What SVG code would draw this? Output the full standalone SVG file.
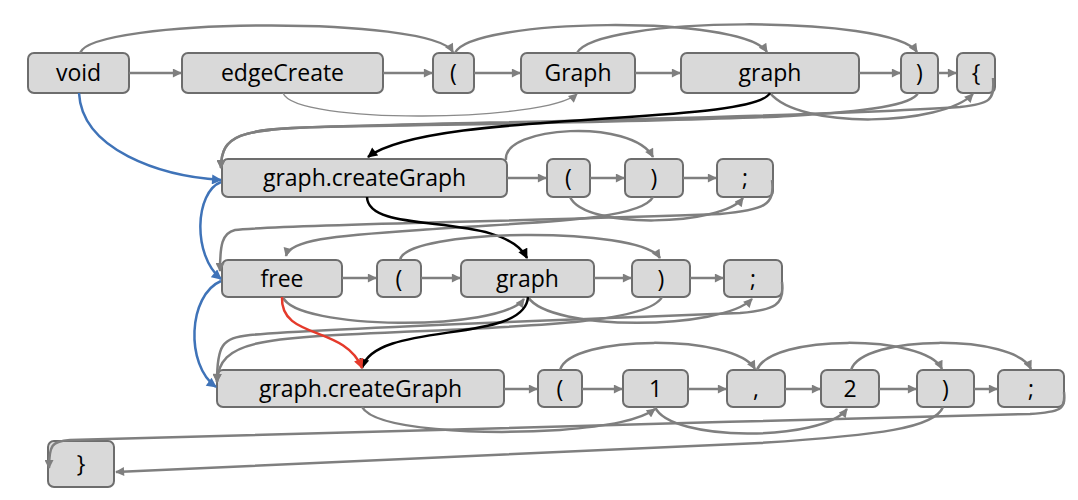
<svg xmlns="http://www.w3.org/2000/svg" width="1078" height="500" viewBox="0 0 1078 500">
<style>
.n rect{fill:#d9d9d9;stroke:#6d6d6d;stroke-width:2}
.n text{font-family:"Open Sans","Liberation Sans",sans-serif;font-size:23px;fill:#000;text-anchor:middle}
.g{fill:none;stroke:#7f7f7f;stroke-width:2.5;marker-end:url(#ag)}
.t{fill:none;stroke:#8a8a8a;stroke-width:1.3;marker-end:url(#ag)}
.k{fill:none;stroke:#000;stroke-width:2.5;marker-end:url(#ak)}
.b{fill:none;stroke:#3f73b8;stroke-width:2.5;marker-end:url(#ab)}
.r{fill:none;stroke:#e53a2b;stroke-width:2.5;marker-end:url(#ar)}
</style>
<defs>
<marker id="ag" viewBox="0 0 10 10" refX="9" refY="5" markerWidth="10" markerHeight="9" orient="auto" markerUnits="userSpaceOnUse"><path d="M0,0 L10,5 L0,10 z" fill="#7f7f7f"/></marker>
<marker id="ak" viewBox="0 0 10 10" refX="9" refY="5" markerWidth="11" markerHeight="10" orient="auto" markerUnits="userSpaceOnUse"><path d="M0,0 L10,5 L0,10 z" fill="#000"/></marker>
<marker id="ab" viewBox="0 0 10 10" refX="9" refY="5" markerWidth="11" markerHeight="10" orient="auto" markerUnits="userSpaceOnUse"><path d="M0,0 L10,5 L0,10 z" fill="#3f73b8"/></marker>
<marker id="ar" viewBox="0 0 10 10" refX="9" refY="5" markerWidth="11" markerHeight="10" orient="auto" markerUnits="userSpaceOnUse"><path d="M0,0 L10,5 L0,10 z" fill="#e53a2b"/></marker>
</defs>
<rect width="1078" height="500" fill="#fff"/>

<g id="n-void" class="n"><rect x="28" y="53" width="101" height="40" rx="6"/><text x="78.5" y="81">void</text></g>
<g id="n-edgeCreate" class="n"><rect x="182" y="53" width="201" height="40" rx="6"/><text x="282.5" y="81">edgeCreate</text></g>
<g id="n-lp1" class="n"><rect x="433" y="53" width="41" height="40" rx="6"/><text x="453.5" y="81">(</text></g>
<g id="n-Graph" class="n"><rect x="521" y="53" width="114" height="40" rx="6"/><text x="578" y="81">Graph</text></g>
<g id="n-graph1" class="n"><rect x="681" y="53" width="178" height="40" rx="6"/><text x="770" y="81">graph</text></g>
<g id="n-rp1" class="n"><rect x="901" y="53" width="37" height="40" rx="6"/><text x="919.5" y="81">)</text></g>
<g id="n-lbrace" class="n"><rect x="957" y="53" width="38" height="40" rx="6"/><text x="976" y="81">{</text></g>

<g id="n-cg2" class="n"><rect x="222" y="159" width="285" height="38" rx="6"/><text x="364.5" y="186">graph.createGraph</text></g>
<g id="n-lp2" class="n"><rect x="547" y="159" width="43" height="38" rx="6"/><text x="568.5" y="186">(</text></g>
<g id="n-rp2" class="n"><rect x="625" y="159" width="58" height="38" rx="6"/><text x="654" y="186">)</text></g>
<g id="n-sc2" class="n"><rect x="717" y="159" width="56" height="38" rx="6"/><text x="745" y="186">;</text></g>

<g id="n-free" class="n"><rect x="222" y="260" width="120" height="37" rx="6"/><text x="282" y="287">free</text></g>
<g id="n-lp3" class="n"><rect x="377" y="260" width="44" height="37" rx="6"/><text x="399" y="287">(</text></g>
<g id="n-graph3" class="n"><rect x="461" y="260" width="133" height="37" rx="6"/><text x="527.5" y="287">graph</text></g>
<g id="n-rp3" class="n"><rect x="632" y="260" width="58" height="37" rx="6"/><text x="661" y="287">)</text></g>
<g id="n-sc3" class="n"><rect x="724" y="260" width="58" height="37" rx="6"/><text x="753" y="287">;</text></g>

<g id="n-cg4" class="n"><rect x="217" y="370" width="287" height="37" rx="6"/><text x="360.5" y="397">graph.createGraph</text></g>
<g id="n-lp4" class="n"><rect x="538" y="370" width="44" height="37" rx="6"/><text x="560" y="397">(</text></g>
<g id="n-one" class="n"><rect x="623" y="370" width="65" height="37" rx="6"/><text x="655.5" y="397">1</text></g>
<g id="n-comma" class="n"><rect x="727" y="370" width="58" height="37" rx="6"/><text x="756" y="397">,</text></g>
<g id="n-two" class="n"><rect x="821" y="370" width="58" height="37" rx="6"/><text x="850" y="397">2</text></g>
<g id="n-rp4" class="n"><rect x="917" y="370" width="57" height="37" rx="6"/><text x="945.5" y="397">)</text></g>
<g id="n-sc4" class="n"><rect x="998" y="370" width="66" height="37" rx="6"/><text x="1031" y="397">;</text></g>

<g id="n-rbrace" class="n"><rect x="48" y="441" width="66" height="46" rx="6"/><text x="81" y="472">}</text></g>

<g id="connectors">
<!-- row 1 straight -->
<path class="g" d="M129,73 L181,73"/>
<path class="g" d="M383,73 L432,73"/>
<path class="g" d="M474,73 L520,73"/>
<path class="g" d="M635,73 L680,73"/>
<path class="g" d="M859,73 L900,73"/>
<path class="g" d="M938,73 L956,73"/>
<!-- row 1 arcs -->
<path class="g" d="M80,53 C92,18 432,15 453,52"/>
<path class="g" d="M455,53 C470,18 742,14 767,52"/>
<path class="g" d="M577,53 C595,16 892,14 917,52"/>
<path class="t" d="M283,93 C295,125 545,122 577,94"/>
<path class="g" d="M770,93 C800,130 942,126 973,94"/>
<path class="g" d="M918,93 C905,120 700,120 320,127 C240,129 221,135 221,168"/>
<path class="g" d="M993,78 C995,100 990,104 960,107 C800,118 420,123 320,127 C240,129 221,135 221,168"/>
<path class="k" d="M770,93 C752,126 430,110 368,157"/>
<!-- row 2 -->
<path class="g" d="M507,178 L546,178"/>
<path class="g" d="M590,178 L624,178"/>
<path class="g" d="M683,178 L716,178"/>
<path class="g" d="M506,160 C502,126 632,118 653,157"/>
<path class="g" d="M570,197 C585,230 722,226 743,198"/>
<path class="g" d="M653,197 C640,222 520,222 420,230 C330,236 290,240 286,256"/>
<path class="g" d="M772,180 C775,205 765,210 720,214 C500,222 270,225 235,230 C222,233 220,245 220,271"/>
<path class="k" d="M367,197 C368,237 502,210 527,258"/>
<!-- row 3 -->
<path class="g" d="M342,278 L376,278"/>
<path class="g" d="M421,278 L460,278"/>
<path class="g" d="M594,278 L631,278"/>
<path class="g" d="M690,278 L723,278"/>
<path class="g" d="M400,260 C405,228 640,226 660,258"/>
<path class="g" d="M283,297 C295,330 500,332 524,299"/>
<path class="g" d="M528,297 C550,332 722,330 752,299"/>
<path class="g" d="M662,297 C648,322 540,326 400,332 C260,338 219,340 217,382"/>
<path class="g" d="M782,282 C785,305 775,310 740,313 C500,322 300,330 250,335 C222,338 217,345 217,382"/>
<path class="k" d="M528,297 C525,345 375,320 362,368"/>
<path class="r" d="M282,297 C280,340 345,325 362,368"/>
<!-- row 4 -->
<path class="g" d="M504,389 L537,389"/>
<path class="g" d="M582,389 L622,389"/>
<path class="g" d="M688,389 L726,389"/>
<path class="g" d="M785,389 L820,389"/>
<path class="g" d="M879,389 L916,389"/>
<path class="g" d="M974,389 L997,389"/>
<path class="g" d="M560,370 C570,334 735,334 755,369"/>
<path class="g" d="M757,370 C770,334 925,334 942,369"/>
<path class="g" d="M851,370 C862,334 1015,334 1031,369"/>
<path class="g" d="M362,407 C375,430 480,435 560,430 C610,426 640,420 655,409"/>
<path class="g" d="M655,407 C670,442 822,442 847,409"/>
<path class="g" d="M943,407 C935,428 880,435 760,443 C500,455 250,465 116,472"/>
<path class="g" d="M1064,392 C1066,410 1060,412 1030,414 C700,423 300,432 70,440 C52,441 49,445 49,468"/>
<!-- blue -->
<path class="b" d="M79,93 C82,150 160,176 221,180"/>
<path class="b" d="M221,182 C195,192 192,255 221,279"/>
<path class="b" d="M221,281 C188,295 185,365 216,387"/>
</g>
</svg>
